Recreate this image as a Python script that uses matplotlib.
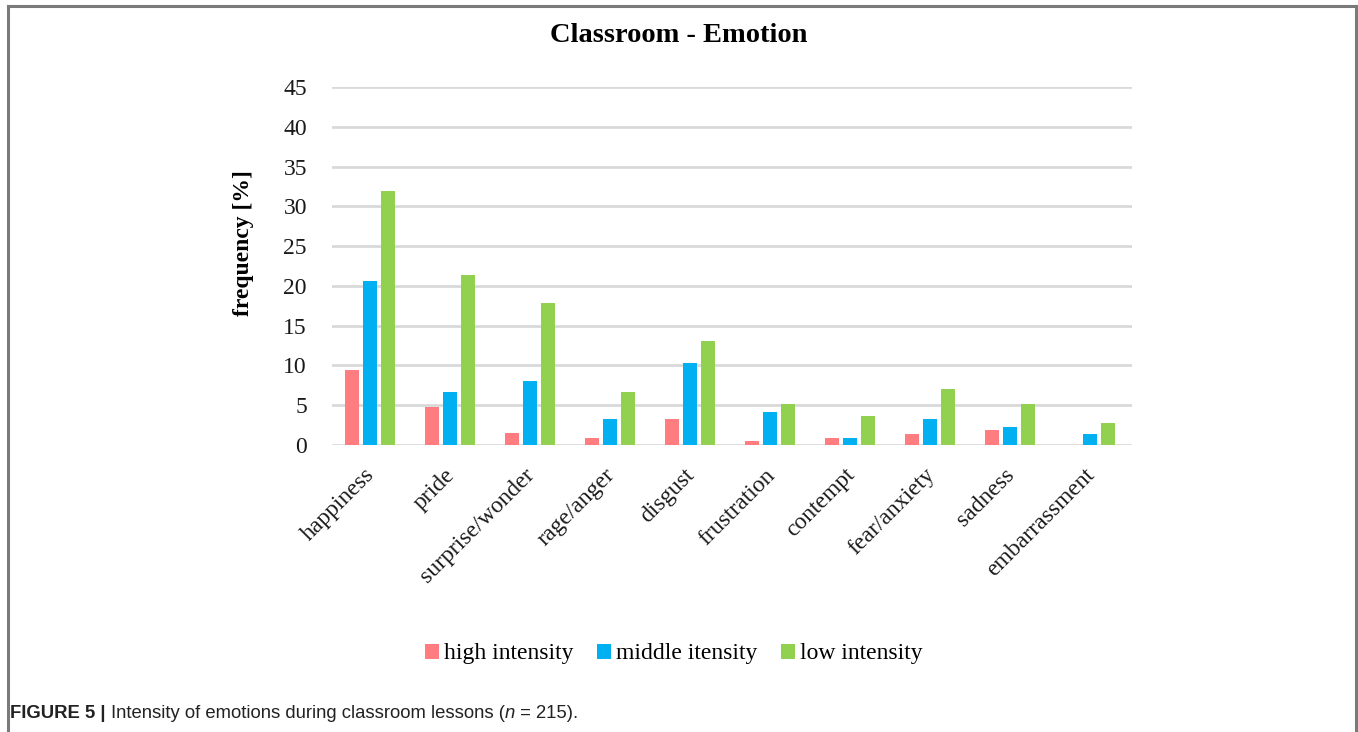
import numpy as np
import matplotlib
matplotlib.use("Agg")
import matplotlib.pyplot as plt
from matplotlib.lines import Line2D
from matplotlib.transforms import ScaledTranslation

categories = ["happiness", "pride", "surprise/wonder", "rage/anger", "disgust",
              "frustration", "contempt", "fear/anxiety", "sadness", "embarrassment"]
high = [9.4, 4.8, 1.5, 0.9, 3.3, 0.5, 0.9, 1.4, 1.9, 0.0]
middle = [20.6, 6.7, 8.0, 3.3, 10.3, 4.2, 0.9, 3.3, 2.3, 1.4]
low = [31.9, 21.4, 17.9, 6.6, 13.1, 5.1, 3.7, 7.0, 5.1, 2.8]
series_names = ["high intensity", "middle itensity", "low intensity"]
colors = ["#FF7C80", "#00B0F0", "#92D050"]

serif = "Liberation Serif"
sans = "Liberation Sans"
fs = 17

fig = plt.figure(figsize=(13.58, 7.32), dpi=100)
ax = fig.add_axes([332 / 1358, 1 - 445 / 732, 800 / 1358, 358 / 732])

x = np.arange(len(categories))
w = 0.175
step = 0.225
for i, (vals, name, c) in enumerate(zip([high, middle, low], series_names, colors)):
    ax.bar(x + (i - 1) * step - 0.02, vals, width=w, color=c, label=name, zorder=3)

ax.set_xlim(-0.5, len(categories) - 0.5)
ax.set_ylim(0, 45)
ax.set_yticks(np.arange(0, 46, 5))
ax.yaxis.grid(True, color="#d9d9d9", linewidth=2, zorder=0)
ax.set_axisbelow(True)
for s in ax.spines.values():
    s.set_visible(False)
ax.tick_params(axis="both", length=0)
ax.tick_params(axis="y", pad=18)
ax.tick_params(axis="x", pad=12)
for lab in ax.get_yticklabels():
    lab.set_fontfamily(serif)
    lab.set_fontsize(fs)
    lab.set_color("#1a1a1a")
ax.set_xticks(x)
ax.set_xticklabels(categories, rotation=45, ha="right", rotation_mode="anchor",
                   fontfamily=serif, fontsize=fs, color="#1a1a1a")
shift = ScaledTranslation(-8 / 100, -3 / 100, fig.dpi_scale_trans)
for lab in ax.get_xticklabels():
    lab.set_transform(lab.get_transform() + shift)

fig.text(243 / 1358, 1 - 243 / 732, "frequency [%]", rotation=90, ha="center",
         va="center", fontfamily=serif, fontsize=fs, fontweight="bold")

fig.text(679 / 1358, 1 - 36 / 732, "Classroom - Emotion", ha="center", va="center",
         fontfamily=serif, fontsize=20.5, fontweight="bold")

leg = fig.legend(loc="center", bbox_to_anchor=(674 / 1358, 1 - 654 / 732), ncol=3,
                 frameon=False, handlelength=0.6, handleheight=0.6,
                 handletextpad=0.2, columnspacing=1.0,
                 prop={"family": serif, "size": fs})

# border around the figure (top, left, right)
border = "#7a7a7a"
fig.add_artist(Line2D([8 / 1358, 8 / 1358], [0, 1 - 6 / 732], color=border, lw=2.2,
                      transform=fig.transFigure))
fig.add_artist(Line2D([1356 / 1358, 1356 / 1358], [0, 1 - 6 / 732], color=border, lw=2.2,
                      transform=fig.transFigure))
fig.add_artist(Line2D([8 / 1358, 1356 / 1358], [1 - 6 / 732, 1 - 6 / 732], color=border,
                      lw=2.2, transform=fig.transFigure))

# caption
fig.canvas.draw()
renderer = fig.canvas.get_renderer()
cap_y = 1 - 714 / 732
pieces = [("FIGURE 5 | ", "bold", "normal"),
          ("Intensity of emotions during classroom lessons (", "normal", "normal"),
          ("n", "normal", "italic"),
          (" = 215).", "normal", "normal")]
xpos = 10 / 1358
for txt, wt, st in pieces:
    t = fig.text(xpos, cap_y, txt, ha="left", va="center", fontfamily=sans,
                 fontsize=13.3, fontweight=wt, fontstyle=st, color="#222222")
    bb = t.get_window_extent(renderer)
    xpos = (bb.x1) / fig.bbox.width

fig.savefig("out.png", dpi=100)
